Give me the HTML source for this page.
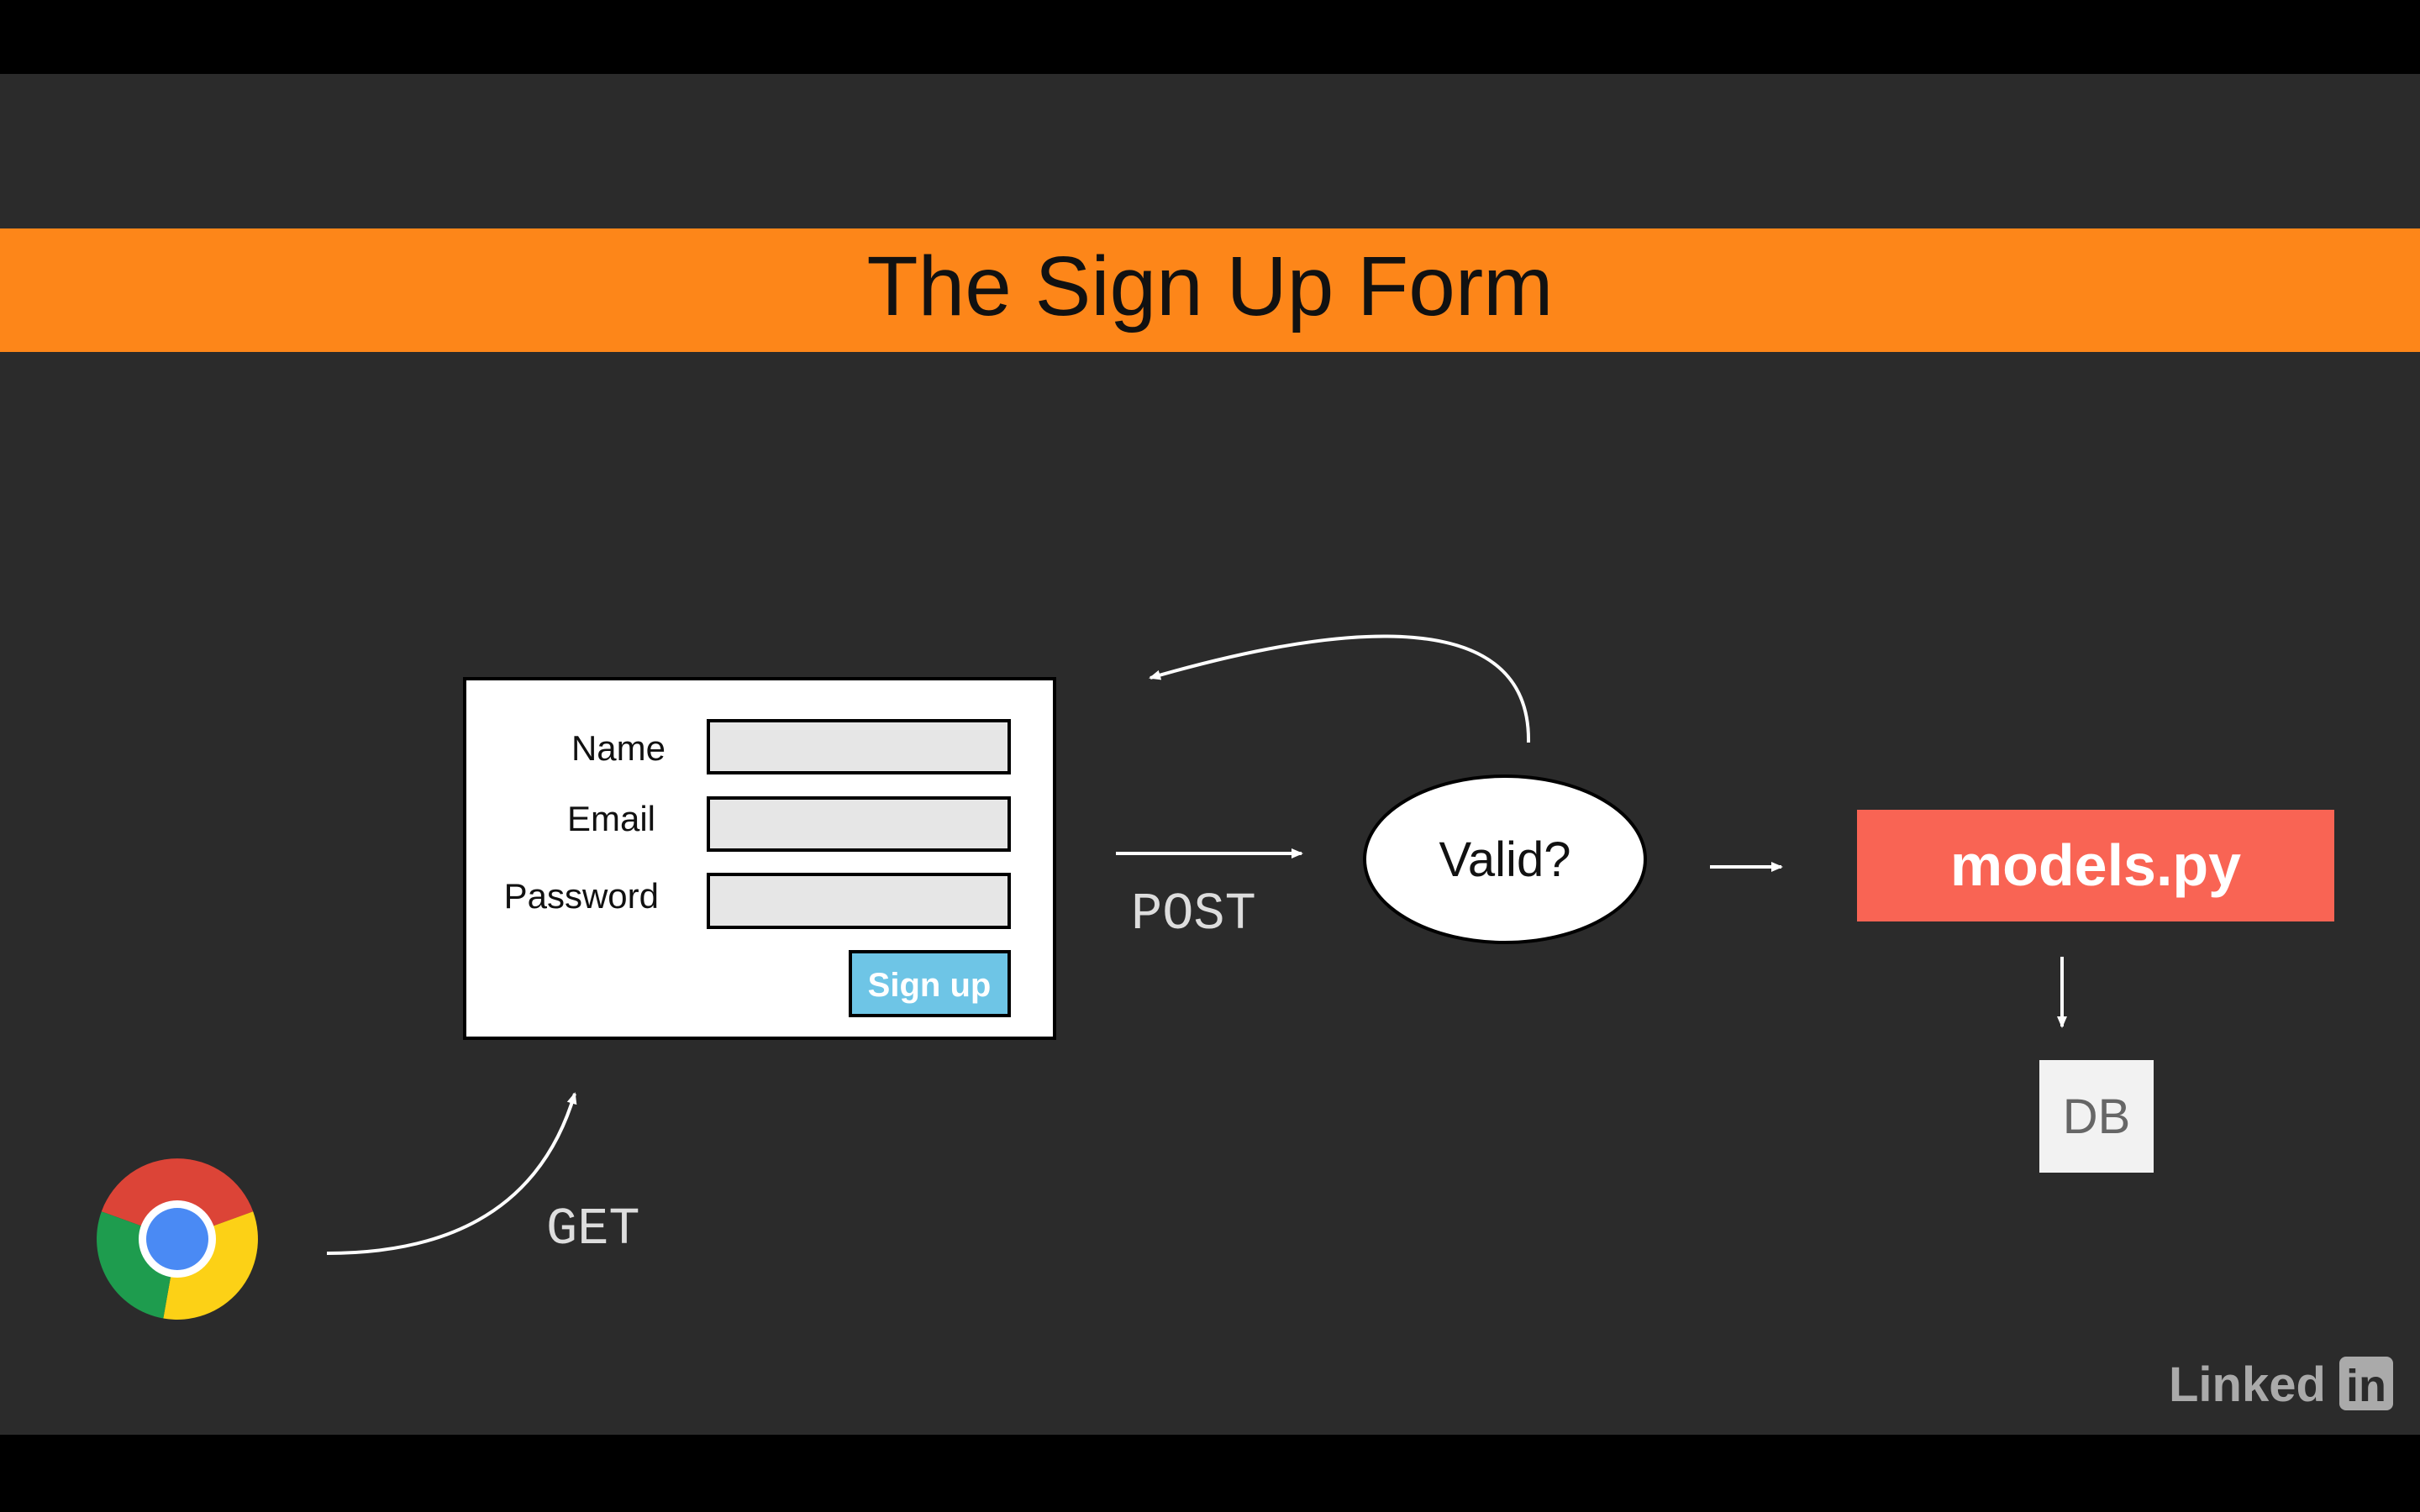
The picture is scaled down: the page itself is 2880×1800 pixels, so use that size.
<!DOCTYPE html>
<html><head><meta charset="utf-8"><style>
html,body{margin:0;padding:0;width:2880px;height:1800px;background:#000;overflow:hidden}
svg{display:block}
.mono{font-family:"Liberation Mono","Courier New",monospace}
</style></head><body>
<svg width="2880" height="1800" viewBox="0 0 2880 1800" xmlns="http://www.w3.org/2000/svg">
<defs>
<marker id="ah" markerWidth="16" markerHeight="14" refX="12" refY="7" orient="auto" markerUnits="userSpaceOnUse"><path d="M0,1 L14,7 L0,13 z" fill="#fff"/></marker>
</defs>
<rect x="0" y="0" width="2880" height="1800" fill="#000"/>
<rect x="0" y="88" width="2880" height="1620" fill="#2b2b2b"/>
<rect x="0" y="272" width="2880" height="147" fill="#fd8619"/>
<text x="1440" y="375" text-anchor="middle" font-family="Liberation Sans, sans-serif" font-size="100" fill="#111">The Sign Up Form</text>

<rect x="553" y="808" width="702" height="428" fill="#fff" stroke="#000" stroke-width="4"/>
<g font-family="Liberation Sans, sans-serif" font-size="42" fill="#111" text-anchor="end">
<text x="792" y="905">Name</text>
<text x="780" y="989">Email</text>
<text x="784" y="1081">Password</text>
</g>
<rect x="843" y="858" width="358" height="62" fill="#e6e6e6" stroke="#000" stroke-width="4"/>
<rect x="843" y="950" width="358" height="62" fill="#e6e6e6" stroke="#000" stroke-width="4"/>
<rect x="843" y="1041" width="358" height="63" fill="#e6e6e6" stroke="#000" stroke-width="4"/>
<rect x="1012" y="1133" width="189" height="76" fill="#6ec5e6" stroke="#000" stroke-width="4"/>
<text x="1106" y="1186" text-anchor="middle" font-family="Liberation Sans, sans-serif" font-weight="bold" font-size="40" fill="#fff">Sign up</text>

<line x1="1328" y1="1016" x2="1549" y2="1016" stroke="#fff" stroke-width="4" marker-end="url(#ah)"/>
<text x="1346" y="1105" class="mono" font-size="62" fill="#ddd">POST</text>

<ellipse cx="1791" cy="1023" rx="167" ry="99" fill="#fff" stroke="#000" stroke-width="4"/>
<text x="1791" y="1043" text-anchor="middle" font-family="Liberation Sans, sans-serif" font-size="58" fill="#111">Valid?</text>

<path d="M1819,884 C1822,720 1600,740 1369,807" fill="none" stroke="#fff" stroke-width="4" marker-end="url(#ah)"/>

<line x1="2035" y1="1032" x2="2120" y2="1032" stroke="#fff" stroke-width="4" marker-end="url(#ah)"/>
<rect x="2210" y="964" width="568" height="133" fill="#f96454"/>
<text x="2494" y="1054" text-anchor="middle" font-family="Liberation Sans, sans-serif" font-weight="bold" font-size="70" fill="#fff">models.py</text>

<line x1="2454" y1="1139" x2="2454" y2="1222" stroke="#fff" stroke-width="4" marker-end="url(#ah)"/>
<rect x="2427" y="1262" width="136" height="134" fill="#f2f2f2"/>
<text x="2495" y="1349" text-anchor="middle" font-family="Liberation Sans, sans-serif" font-size="58" fill="#666">DB</text>

<path d="M389,1492 C520,1492 640,1450 684,1302" fill="none" stroke="#fff" stroke-width="4" marker-end="url(#ah)"/>
<text x="650" y="1480" class="mono" font-size="62" fill="#ddd">GET</text>

<!-- chrome: red top, yellow right, green left -->
<g transform="translate(211,1475)">
<path d="M0,0 L-90.2,-32.8 A96,96 0 0 1 90.2,-32.8 Z" fill="#dc4437"/>
<path d="M0,0 L90.2,-32.8 A96,96 0 0 1 -16.7,94.5 Z" fill="#fcd116"/>
<path d="M0,0 L-16.7,94.5 A96,96 0 0 1 -90.2,-32.8 Z" fill="#1e9c4e"/>
<circle r="46" fill="#fff"/>
<circle r="37" fill="#4a8af4"/>
</g>

<text x="2581" y="1668" font-family="Liberation Sans, sans-serif" font-weight="bold" font-size="58" fill="#aaa">Linked</text>
<rect x="2784" y="1615" width="64" height="64" rx="8" fill="#aaa"/>
<text x="2816" y="1668" text-anchor="middle" font-family="Liberation Sans, sans-serif" font-weight="bold" font-size="54" fill="#2b2b2b">in</text>
</svg>
</body></html>
